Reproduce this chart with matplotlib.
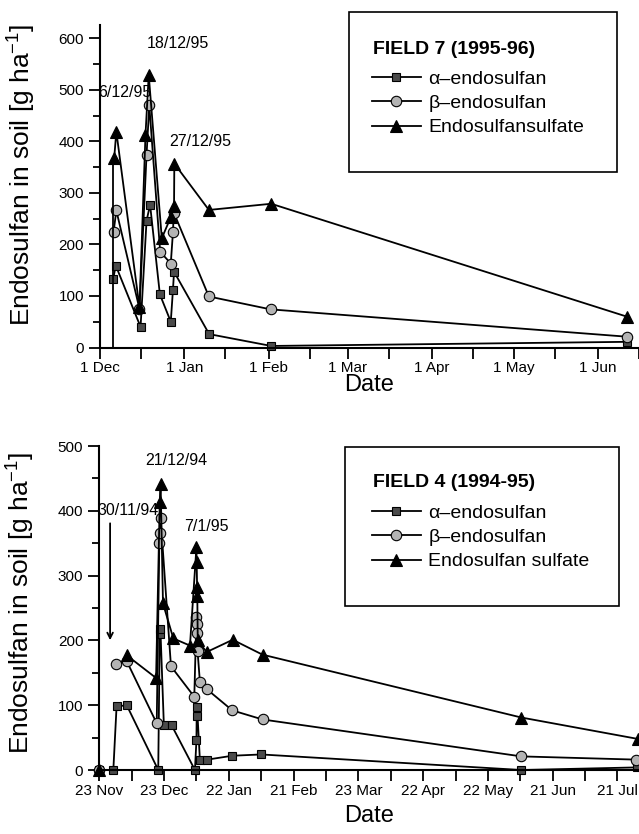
import numpy as np
import matplotlib
matplotlib.use("Agg")
import matplotlib.pyplot as plt
from matplotlib.patches import Rectangle
from datetime import date, timedelta

plt.rcParams['font.family'] = ['Liberation Sans', 'DejaVu Sans']

# ---- FIELD 7 (1995-96), days after 1 Dec 1995 ----
f7_start = date(1995, 12, 1)
f7_alpha_t = [4.8, 5.8, 14.9, 17.1, 18.4, 22.0, 26.0, 26.8, 27.2, 40.1, 62.9, 193.5]
f7_alpha_v = [132, 159, 40, 246, 277, 103, 50, 112, 147, 26, 3, 11]
f7_beta_t = [5.0, 6.0, 14.5, 17.1, 18.1, 22.1, 26.0, 26.8, 27.1, 40.0, 62.7, 193.5]
f7_beta_v = [225, 266, 75, 374, 470, 186, 163, 224, 262, 99, 74, 21]
f7_sulf_t = [5.2, 6.0, 14.5, 16.7, 17.9, 22.7, 26.0, 27.2, 27.3, 40.0, 62.9, 193.5]
f7_sulf_v = [367, 419, 78, 412, 529, 212, 253, 275, 357, 267, 279, 60]
f7_labels = ["6/12/95", "18/12/95", "27/12/95"]
f7_label_t = [9.0, 28.5, 37.0]
f7_label_v = [495, 590, 400]
f7_marker_t = 4.8
f7_marker_v = 367

# ---- FIELD 4 (1994-95), days after 23 Nov 1994 ----
f4_start = date(1994, 11, 23)
f4_alpha_t = [0, 6.5, 8.0, 12.7, 27.3, 28.0, 28.3, 29.9, 33.5, 44.3, 45.0, 45.1, 45.3,
              46.6, 50.0, 61.6, 75.0, 195.5, 249.0]
f4_alpha_v = [0, 0, 98, 100, 0, 210, 218, 70, 69, 0, 46, 84, 97, 15, 16, 22, 24, 0, 4]
f4_beta_t = [0, np.nan, 7.7, 12.7, 26.6, 27.8, 28.1, 28.4, 33.2, 44.0, 45.0, 45.1, 45.3,
             45.5, 46.6, 49.7, 61.6, 75.6, 195.5, 248.8]
f4_beta_v = [0, np.nan, 164, 168, 72, 350, 365, 389, 160, 113, 236, 226, 212, 184, 136,
             125, 92, 78, 21, 16]
f4_sulf_t = [0, np.nan, 12.7, 26.3, 28.0, 28.4, 29.5, 34.3, 42.0, 45.0, 45.1, 45.3, 45.4,
             45.6, 49.7, 61.8, 75.6, 195.5, 249.4]
f4_sulf_v = [0, np.nan, 177, 142, 414, 442, 257, 203, 192, 344, 321, 283, 268, 200, 182,
             201, 178, 81, 48]
f4_labels = ["30/11/94", "21/12/94", "7/1/95"]
f4_label_t = [13.5, 35.5, 49.5]
f4_label_v = [400, 478, 376]
f4_arrow_t = 5.0
f4_arrow_v = [385, 196]

W, H = 639, 834
fig = plt.figure(figsize=(W / 100, H / 100), dpi=100)
ax1 = fig.add_axes([100 / W, 1 - 347.5 / H, (W - 100) / W, (347.5 - 25) / H])
ax2 = fig.add_axes([99.3 / W, 1 - 770 / H, (W - 99.3) / W, (770 - 446) / H])

sq = dict(marker='s', ms=6, mfc='#4a4a4a', mec='black', mew=0.8)
ci = dict(marker='o', ms=7.5, mfc='#b4b4b4', mec='black', mew=0.8)
tr = dict(marker='^', ms=8.5, mfc='black', mec='black', mew=0.8)


def draw(ax, series, names, ylab_y, xpad):
    handles = []
    for (t, v, st), nm in zip(series, names):
        h, = ax.plot(t, v, color='black', lw=1.3, clip_on=False, label=nm, **st)
        handles.append(h)
    for s in ['top', 'right']:
        ax.spines[s].set_visible(False)
    for s in ['left', 'bottom']:
        ax.spines[s].set_linewidth(1.5)
    ax.tick_params(which='both', direction='out', width=1.3, labelsize=11)
    ax.tick_params(which='major', length=8)
    ax.tick_params(axis='y', which='minor', length=5)
    ax.tick_params(axis='x', pad=2)
    ax.set_xlabel("Date", fontsize=17, labelpad=xpad)
    ax.set_ylabel("Endosulfan in soil [g ha$^{\\mathregular{-1}}$]", fontsize=19)
    ax.yaxis.set_label_coords(-63 / 539, ylab_y)
    return handles


# top chart
h1 = draw(ax1, [(f7_alpha_t, f7_alpha_v, sq), (f7_beta_t, f7_beta_v, ci),
                (f7_sulf_t, f7_sulf_v, tr)],
          ["\u03b1\u2013endosulfan", "\u03b2\u2013endosulfan", "Endosulfansulfate"],
          0.535, -1)
ax1.vlines(f7_marker_t, 0, f7_marker_v, color='black', lw=1.3)
ax1.set_ylim(0, 626)
ax1.set_xlim(0, 195.3)
ax1.set_yticks(range(0, 601, 100))
ax1.set_yticks(range(50, 601, 100), minor=True)
mt, ml, mid = [], [], []
d = f7_start
while d <= date(1996, 6, 16):
    mt.append((d - f7_start).days)
    ml.append(f"{d.day} {d.strftime('%b')}")
    mid.append((d.replace(day=16) - f7_start).days)
    d = date(d.year + (d.month == 12), d.month % 12 + 1, 1)
ax1.set_xticks(mt, ml)
ax1.set_xticks(mid, minor=True)
ax1.tick_params(axis='x', which='minor', length=8)
for s, t, v in zip(f7_labels, f7_label_t, f7_label_v):
    ax1.text(t, v, s, ha='center', va='center', fontsize=11.5)

# bottom chart
h2 = draw(ax2, [(f4_alpha_t, f4_alpha_v, sq), (f4_beta_t, f4_beta_v, ci),
                (f4_sulf_t, f4_sulf_v, tr)],
          ["\u03b1\u2013endosulfan", "\u03b2\u2013endosulfan", "Endosulfan sulfate"],
          0.515, 5)
ax2.set_ylim(0, 500)
ax2.set_xlim(0, 250)
ax2.set_yticks(range(0, 501, 100))
ax2.set_yticks(range(50, 501, 100), minor=True)
tt = list(range(0, 241, 30))
ax2.set_xticks(tt, [(f4_start + timedelta(days=k)).strftime('%d %b') for k in tt])
ax2.set_xticks(range(15, 250, 30), minor=True)
ax2.tick_params(axis='x', which='minor', length=8)
for s, t, v in zip(f4_labels, f4_label_t, f4_label_v):
    ax2.text(t, v, s, ha='center', va='center', fontsize=11.5)
ax2.annotate("", xy=(f4_arrow_t, f4_arrow_v[1]), xytext=(f4_arrow_t, f4_arrow_v[0]),
             arrowprops=dict(arrowstyle='->', color='black', lw=1.3))

# legend boxes: frame, bold title, entries
for ax, hs, title, box, ty, ey in [
        (ax1, h1, "FIELD 7 (1995-96)", (349, 12, 617, 172), 50, 70),
        (ax2, h2, "FIELD 4 (1994-95)", (345, 447, 619, 606), 483, 504)]:
    x0, y0, x1, y1 = box
    fig.patches.append(Rectangle((x0 / W, 1 - y1 / H), (x1 - x0) / W, (y1 - y0) / H,
                                 transform=fig.transFigure, fill=False,
                                 edgecolor='black', lw=1.2))
    fig.text(373 / W, 1 - ty / H, title, fontsize=14, fontweight='bold',
             ha='left', va='center')
    ax.legend(handles=hs, loc='upper left',
              bbox_to_anchor=(372 / W, 1 - ey / H),
              bbox_transform=fig.transFigure, frameon=False, fontsize=14,
              handlelength=2.5, handletextpad=0.4,
              labelspacing=0.35, borderpad=0, borderaxespad=0)

fig.savefig("out.png", dpi=100)
